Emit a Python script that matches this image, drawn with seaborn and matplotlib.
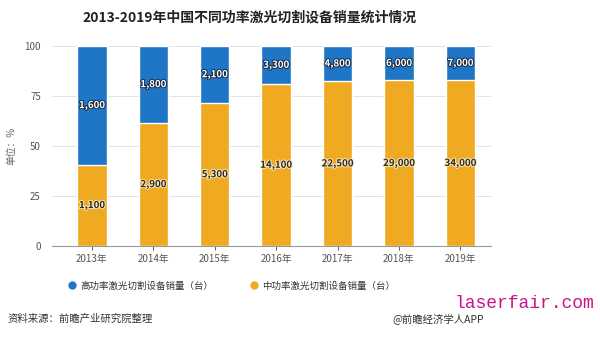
import matplotlib
matplotlib.use("Agg")
import matplotlib.pyplot as plt
import matplotlib.patheffects as pe
from matplotlib.lines import Line2D
import seaborn as sns
import pandas as pd

years = ["2013年", "2014年", "2015年", "2016年", "2017年", "2018年", "2019年"]
high_power = [1600, 1800, 2100, 3300, 4800, 6000, 7000]
mid_power = [1100, 2900, 5300, 14100, 22500, 29000, 34000]
y_ticks = [0, 25, 50, 75, 100]
title = "2013-2019年中国不同功率激光切割设备销量统计情况"
series_names = ["高功率激光切割设备销量（台）", "中功率激光切割设备销量（台）"]

BLUE = "#1F76C6"
ORANGE = "#F0AA22"

sns.set_theme(style="white")
plt.rcParams["font.family"] = ["Noto Sans CJK SC", "DejaVu Sans"]

totals = [h + m for h, m in zip(high_power, mid_power)]
mid_pct = [m / t * 100 for m, t in zip(mid_power, totals)]
df = pd.DataFrame({"year": years, "total": [100.0] * len(years), "mid": mid_pct})

fig = plt.figure(figsize=(6, 3.37), dpi=100)
ax = fig.add_axes([52 / 600, 1 - 246 / 337, (491 - 52) / 600, 200 / 337])

sns.barplot(data=df, x="year", y="total", color=BLUE, width=0.48, ax=ax, saturation=1)
sns.barplot(data=df, x="year", y="mid", color=ORANGE, width=0.48, ax=ax, saturation=1)

ax.set_ylim(0, 100)
ax.set_xlim(-0.65, 6.5)
ax.set_yticks(y_ticks)
ax.set_yticklabels([str(t) for t in y_ticks], fontsize=7, color="#555555")
ax.tick_params(axis="x", labelsize=7, colors="#444444", length=3, width=0.6, direction="out", pad=3)
ax.tick_params(axis="y", length=0, pad=8)
ax.xaxis.set_ticks_position("bottom")
for lab in ax.get_xticklabels():
    lab.set_color("#555555")
ax.yaxis.grid(True, color="#e3e3e3", linewidth=0.7)
ax.set_axisbelow(True)
for s in ["top", "right", "left"]:
    ax.spines[s].set_visible(False)
ax.spines["bottom"].set_color("#9a9a9a")
ax.spines["bottom"].set_linewidth(0.8)
ax.set_xlabel("")
ax.set_ylabel("单位：%", fontsize=7, color="#666666", labelpad=6)

# data labels
for i in range(len(years)):
    mp = mid_pct[i]
    ax.text(i, (mp + 100) / 2, f"{high_power[i]:,}", ha="center", va="center",
            fontsize=7, color="white", fontweight="bold",
            path_effects=[pe.withStroke(linewidth=1.4, foreground="#1a2a40")])
    ax.text(i, mp / 2, f"{mid_power[i]:,}", ha="center", va="center",
            fontsize=7, color="#2a2a2a", fontweight="bold",
            path_effects=[pe.withStroke(linewidth=1.4, foreground="#fbe7b8")])

fig.text(250 / 600, 1 - 18 / 337, title, ha="center", va="center",
         fontsize=10, fontweight="bold", color="#222222")

handles = [Line2D([0], [0], marker="o", color="w", markerfacecolor=BLUE, markersize=7),
           Line2D([0], [0], marker="o", color="w", markerfacecolor=ORANGE, markersize=7)]
fig.legend(handles, series_names, loc="center", bbox_to_anchor=(231 / 600, 1 - 286 / 337),
           ncol=2, frameon=False, fontsize=6.8, handletextpad=0.4, columnspacing=3.8,
           labelcolor="#333333", handlelength=1.0)

fig.text(8 / 600, 1 - 319 / 337, "资料来源：前瞻产业研究院整理", ha="left", va="center",
         fontsize=7.5, color="#333333")
fig.text(392 / 600, 1 - 319 / 337, "@前瞻经济学人APP", ha="left", va="center",
         fontsize=7.5, color="#333333")
fig.text(455 / 600, 1 - 303 / 337, "laserfair.com", ha="left", va="center",
         fontsize=13, color="#C8148C", family="Liberation Mono")

fig.savefig("out.png", dpi=100)
